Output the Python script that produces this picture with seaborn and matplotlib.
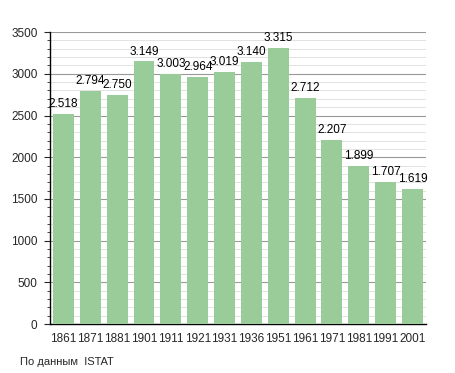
import numpy as np
import pandas as pd
import matplotlib
matplotlib.use('Agg')
import matplotlib.pyplot as plt
from matplotlib.ticker import MultipleLocator
import seaborn as sns

years = ['1861', '1871', '1881', '1901', '1911', '1921', '1931',
         '1936', '1951', '1961', '1971', '1981', '1991', '2001']
population = [2518, 2794, 2750, 3149, 3003, 2964, 3019,
              3140, 3315, 2712, 2207, 1899, 1707, 1619]
labels = ['2.518', '2.794', '2.750', '3.149', '3.003', '2.964', '3.019',
          '3.140', '3.315', '2.712', '2.207', '1.899', '1.707', '1.619']

df = pd.DataFrame({'year': years, 'pop': population})

sns.set_style('white')
plt.rcParams['font.family'] = ['Liberation Sans', 'DejaVu Sans']

fig = plt.figure(figsize=(4.55, 3.73), dpi=100)
ax = fig.add_axes([0.110, 0.131, 0.826, 0.783])

sns.barplot(data=df, x='year', y='pop', color='#99cc99', saturation=1,
            width=0.78, linewidth=0, ax=ax, zorder=3)

ax.set_ylim(0, 3500)
ax.set_xlim(-0.5, len(years) - 0.5)
ax.yaxis.set_major_locator(MultipleLocator(500))
ax.yaxis.set_minor_locator(MultipleLocator(100))
ax.grid(which='major', axis='y', color='#999999', linewidth=0.8, zorder=0)
ax.grid(which='minor', axis='y', color='#dddddd', linewidth=0.6, zorder=0)
ax.set_axisbelow(True)

for s in ['top', 'right']:
    ax.spines[s].set_visible(False)
ax.spines['left'].set_color('black')
ax.spines['bottom'].set_color('black')
ax.spines['left'].set_linewidth(1.0)
ax.spines['bottom'].set_linewidth(1.0)

ax.tick_params(axis='y', which='major', left=True, length=4, width=0.8,
               labelsize=8.5, pad=5)
ax.tick_params(axis='y', which='minor', left=True, length=2, width=0.6)
ax.tick_params(axis='x', bottom=False, labelsize=8.5, pad=3)
ax.set_xlabel('')
ax.set_ylabel('')

for i, (v, t) in enumerate(zip(population, labels)):
    ax.text(i, v + 45, t, ha='center', va='bottom', fontsize=8.5, color='black')

fig.text(20 / 455, 1 - 362 / 373, 'По данным  ISTAT', fontsize=8,
         ha='left', va='center')

fig.savefig('out.png', dpi=100)
